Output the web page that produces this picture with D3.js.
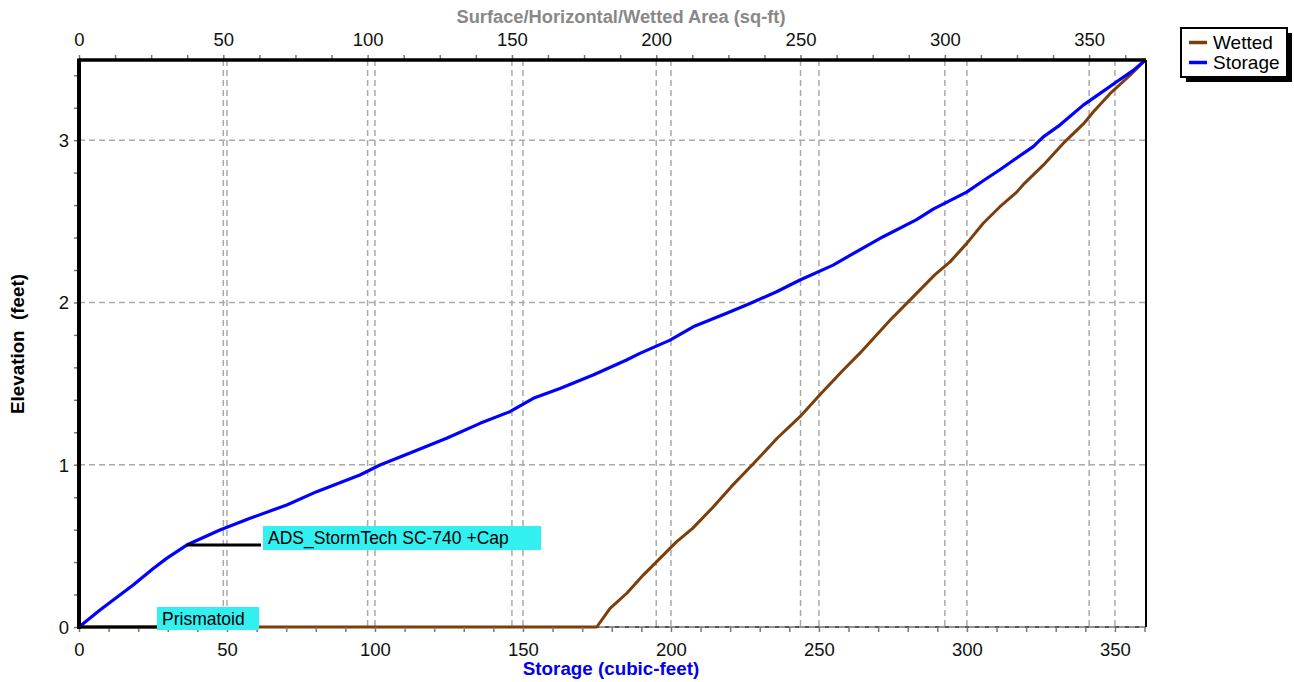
<!DOCTYPE html>
<html><head><meta charset="utf-8">
<script src="https://cdn.jsdelivr.net/npm/d3@7"></script>
<style>
body{margin:0;background:#fff;}
text{font-family:"Liberation Sans",Arial,sans-serif;}
</style></head>
<body><svg id="c" width="1294" height="682"></svg>
<script>
// Storage curve: elevation (ft) vs storage (cu-ft)
const storageVol  = [0, 7.1, 18.3, 25.1, 29.6, 36.4, 47.6, 57.8, 70.2, 80.3, 94.9, 101.7, 112.9, 124.2, 135.5, 145.6, 153.5, 162.5, 173.7, 185, 189.5, 199.7, 207.5, 218.8, 226.7, 235.7, 243.6, 254.8, 260.5, 271.7, 283, 288.6, 299.9, 305.5, 311, 316.8, 322.4, 325.8, 331.4, 339.3, 345, 350.6, 356.2, 360.3];
const storageElev = [0, 0.105, 0.259, 0.36, 0.423, 0.505, 0.598, 0.67, 0.752, 0.834, 0.937, 0.998, 1.08, 1.163, 1.255, 1.327, 1.409, 1.47, 1.553, 1.645, 1.686, 1.768, 1.85, 1.933, 1.994, 2.066, 2.138, 2.23, 2.29, 2.405, 2.51, 2.575, 2.68, 2.75, 2.816, 2.89, 2.96, 3.02, 3.093, 3.216, 3.288, 3.36, 3.43, 3.494];
// Wetted area curve: elevation (ft) vs area (sq-ft)
const wettedArea = [0, 179.4, 184, 189.8, 195.5, 201.3, 207.1, 212.6, 219.5, 226, 233.8, 241.9, 249.8, 257.2, 264.8, 270.5, 281, 288.5, 296.5, 301.8, 307.6, 313.3, 319.1, 324.9, 327.6, 334.1, 341, 348, 351.5, 357.3, 364.2, 369.5];
const wettedElev = [0, 0, 0.115, 0.208, 0.32, 0.423, 0.526, 0.608, 0.735, 0.865, 1.009, 1.163, 1.296, 1.44, 1.584, 1.686, 1.89, 2.025, 2.17, 2.25, 2.364, 2.488, 2.59, 2.68, 2.734, 2.846, 2.98, 3.10, 3.175, 3.288, 3.40, 3.494];
const bottomTicks = [0, 50, 100, 150, 200, 250, 300, 350];
const topTicks = [0, 50, 100, 150, 200, 250, 300, 350];
const yTicks = [0, 1, 2, 3];
const legendItems = ["Wetted", "Storage"];
const annotations = [{label: "ADS_StormTech SC-740 +Cap", vol: 36.4, elev: 0.505}, {label: "Prismatoid", vol: 0, elev: 0}];

const svg = d3.select("#c");
const L = 79, R = 1146, T = 60, B = 627;
const x = d3.scaleLinear().domain([0, 360.5]).range([L, R]);
const xt = d3.scaleLinear().domain([0, 369.7]).range([L, R]);
const y = d3.scaleLinear().domain([0, 3.494]).range([B, T]);
const grid = "#aaaaaa";

// grid lines
const g = svg.append("g");
bottomTicks.filter(d => d > 0).forEach(d => {
  g.append("line").attr("x1", x(d)).attr("x2", x(d)).attr("y1", T).attr("y2", B)
   .attr("stroke", grid).attr("stroke-width", 1.5).attr("stroke-dasharray", "6,4");
});
topTicks.filter(d => d > 0).forEach(d => {
  g.append("line").attr("x1", xt(d)).attr("x2", xt(d)).attr("y1", T).attr("y2", B)
   .attr("stroke", grid).attr("stroke-width", 1.5).attr("stroke-dasharray", "6,4");
});
yTicks.forEach(d => {
  g.append("line").attr("x1", L).attr("x2", R).attr("y1", y(d)).attr("y2", y(d))
   .attr("stroke", d === 0 ? "#555" : grid).attr("stroke-width", d === 0 ? 2 : 1.5).attr("stroke-dasharray", d === 0 ? null : "6,4");
});
g.append("line").attr("x1", L).attr("x2", R).attr("y1", B).attr("y2", B)
 .attr("stroke", grid).attr("stroke-width", 1.5).attr("stroke-dasharray", "6,4");

// curves
const lineS = d3.line().x(d => x(d[0])).y(d => y(d[1]));
const lineW = d3.line().x(d => xt(d[0])).y(d => y(d[1]));
svg.append("path").datum(wettedArea.map((a, i) => [a, wettedElev[i]]))
  .attr("d", lineW).attr("fill", "none").attr("stroke", "#7b3f0c").attr("stroke-width", 3).attr("stroke-linejoin", "round");
svg.append("path").datum(storageVol.map((v, i) => [v, storageElev[i]]))
  .attr("d", lineS).attr("fill", "none").attr("stroke", "#0000ff").attr("stroke-width", 3.2).attr("stroke-linejoin", "round");

// axes
const fs = "18.5px";
const axB = svg.append("g").attr("transform", `translate(0,${B})`)
  .call(d3.axisBottom(x).tickValues(d3.range(0, 361, 10)).tickSize(5).tickFormat(d => bottomTicks.includes(d) ? d : ""));
const axT = svg.append("g").attr("transform", `translate(0,${T})`)
  .call(d3.axisTop(xt).tickValues(d3.range(0, 370, 12.5)).tickSize(5).tickFormat(d => topTicks.includes(d) ? d : ""));
const axL = svg.append("g").attr("transform", `translate(${L},0)`)
  .call(d3.axisLeft(y).tickValues(d3.range(0, 3.45, 0.2)).tickSize(5).tickFormat(d => yTicks.some(t => Math.abs(t - d) < 1e-6) ? Math.round(d) : ""));
[axB, axT, axL].forEach(a => {
  a.selectAll("text").style("font-size", fs).attr("fill", "#111");
  a.selectAll(".tick line").attr("stroke", "#777").attr("stroke-width", 1.5);
  a.select(".domain").remove();
});
axB.selectAll("text").attr("y", 29).attr("dy", 0);
axT.selectAll("text").attr("y", -14).attr("dy", 0);
axL.selectAll("text").attr("x", -10).attr("dy", "0.34em");

// frame
svg.append("line").attr("x1", L).attr("x2", R).attr("y1", T).attr("y2", T).attr("stroke", "#000").attr("stroke-width", 3.5);
svg.append("line").attr("x1", L).attr("x2", L).attr("y1", T - 1.5).attr("y2", B + 2).attr("stroke", "#000").attr("stroke-width", 4);
svg.append("line").attr("x1", R).attr("x2", R).attr("y1", T).attr("y2", B).attr("stroke", "#000").attr("stroke-width", 2);

// annotations
const afs = "17.5px";
const a0 = annotations[0];
svg.append("line").attr("x1", x(a0.vol)).attr("x2", 261).attr("y1", y(a0.elev)).attr("y2", y(a0.elev)).attr("stroke", "#000").attr("stroke-width", 3);
svg.append("rect").attr("x", 263).attr("y", y(a0.elev) - 19).attr("width", 278).attr("height", 24).attr("fill", "#33f0f0");
svg.append("text").attr("x", 268).attr("y", y(a0.elev) - 1).text(a0.label).style("font-size", afs).attr("fill", "#000");
const a1 = annotations[1];
svg.append("line").attr("x1", x(a1.vol)).attr("x2", 159).attr("y1", y(a1.elev)).attr("y2", y(a1.elev)).attr("stroke", "#000").attr("stroke-width", 3);
svg.append("rect").attr("x", 157).attr("y", y(a1.elev) - 20).attr("width", 102).attr("height", 23).attr("fill", "#33f0f0");
svg.append("text").attr("x", 162).attr("y", y(a1.elev) - 2).text(a1.label).style("font-size", afs).attr("fill", "#000");

// titles
svg.append("text").attr("x", 621).attr("y", 23).attr("text-anchor", "middle")
  .style("font-size", "18.3px").style("font-weight", "bold").attr("fill", "#888").text("Surface/Horizontal/Wetted Area (sq-ft)");
svg.append("text").attr("x", 611).attr("y", 675).attr("text-anchor", "middle")
  .style("font-size", "18.8px").style("font-weight", "bold").attr("fill", "#0000ee").text("Storage (cubic-feet)");
svg.append("text").attr("transform", "translate(24,344) rotate(-90)").attr("text-anchor", "middle")
  .style("font-size", "18.8px").style("font-weight", "bold").attr("fill", "#000").style("white-space", "pre").text("Elevation  (feet)");

// legend
const lg = svg.append("g");
lg.append("rect").attr("x", 1186).attr("y", 33).attr("width", 106).attr("height", 49).attr("fill", "#000");
lg.append("rect").attr("x", 1181).attr("y", 28).attr("width", 106).attr("height", 49).attr("fill", "#fff").attr("stroke", "#000").attr("stroke-width", 2);
const lcol = ["#7b3f0c", "#0000ff"];
legendItems.forEach((n, i) => {
  const yy = 42.5 + i * 20;
  lg.append("line").attr("x1", 1189).attr("x2", 1207).attr("y1", yy).attr("y2", yy).attr("stroke", lcol[i]).attr("stroke-width", 3.5);
  lg.append("text").attr("x", 1213).attr("y", yy + 6.5).text(n).style("font-size", "19px").attr("fill", "#000");
});
</script></body></html>
